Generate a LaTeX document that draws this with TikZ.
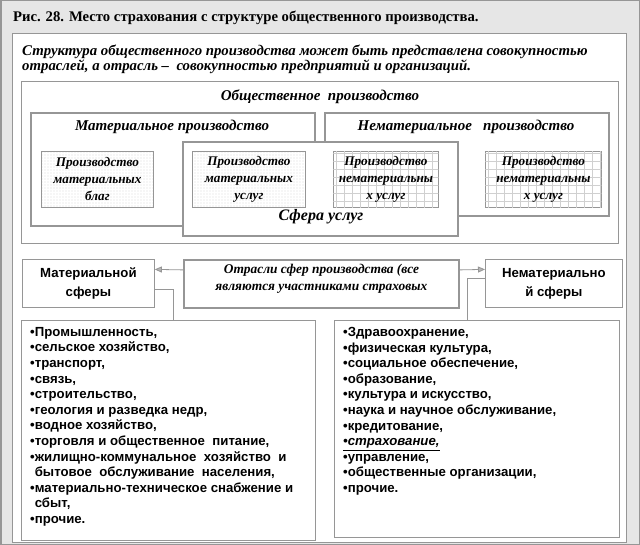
\documentclass[tikz,border=0pt]{standalone}
\usepackage{fontspec}
\setmainfont{Liberation Serif}
\newfontfamily\arialf{Liberation Sans}
\usetikzlibrary{patterns.meta,arrows.meta}
\definecolor{bgmarble}{RGB}{230,230,230}
\definecolor{lineg}{RGB}{150,150,150}
\definecolor{dotg}{RGB}{150,150,150}
\definecolor{gridg}{RGB}{208,208,208}
\begin{document}
\begin{tikzpicture}[x=1pt,y=-1pt,
  thin box/.style={draw=lineg, line width=0.8pt, fill=white, inner sep=0pt, anchor=north west},
  thick box/.style={draw=lineg, line width=1.8pt, fill=white, inner sep=0pt, anchor=north west},
  dot box/.style={draw=lineg, line width=0.8pt, fill=white, inner sep=0pt, anchor=north west,
     postaction={pattern={Dots[radius=0.4pt,distance=3pt]}, pattern color=dotg}},
  grid box/.style={draw=lineg, line width=0.8pt, fill=white, inner sep=0pt, anchor=north west,
     postaction={pattern={Hatch[distance=8pt,line width=0.35pt]}, pattern color=gridg}},
  boxtxt/.style={font=\fontsize{13.2}{17}\selectfont\bfseries\itshape, align=center},
  headtxt/.style={font=\fontsize{15}{17}\selectfont\bfseries\itshape},
  sanstxt/.style={font=\arialf\fontsize{13.2}{19}\selectfont\bfseries, align=center},
  listtxt/.style={font=\arialf\fontsize{13.2}{15.6}\selectfont\bfseries, align=left, anchor=north west, inner sep=0pt},
  arr/.style={draw=lineg, line width=0.8pt, -{Triangle[length=7pt,width=6pt,fill=lineg!70]}},
  conn/.style={draw=lineg, line width=0.8pt}]
% background
\fill[bgmarble] (0,0) rectangle (640,545);
\draw[lineg, line width=1.5pt] (0.75,0.75) rectangle (639.25,544.25);
% title
\node[anchor=west, inner sep=0pt, font=\fontsize{14.7}{16}\selectfont\bfseries] (title) at (13,18)
  {Рис. 28. Место страхования с структуре общественного производства.};
% white panel
\node[thin box, minimum width=614pt, minimum height=509pt] (panel) at (12,33) {};
\node[anchor=west, inner sep=0pt, font=\fontsize{14.8}{16}\selectfont\bfseries\itshape] (sub1) at (22,52)
  {Структура общественного производства может быть представлена совокупностью};
\node[anchor=west, inner sep=0pt, font=\fontsize{14.8}{16}\selectfont\bfseries\itshape] (sub2) at (22,67)
  {отраслей, а отрасль –\ \ совокупностью предприятий и организаций.};
% big box
\node[thin box, minimum width=597pt, minimum height=162pt] (obsh) at (21,81) {};
\node[headtxt] (obsht) at (320,97) {Общественное\ \ производство};
\node[thick box, minimum width=284pt, minimum height=113pt] (mat) at (30,112) {};
\node[headtxt] (matt) at (172,127) {Материальное производство};
\node[thick box, minimum width=284pt, minimum height=103pt] (nemat) at (324,112) {};
\node[headtxt] (nematt) at (466,127) {Нематериальное\ \ \ производство};
\node[thick box, minimum width=275pt, minimum height=94pt] (sfera) at (182,141) {};
\node[font=\fontsize{16}{18}\selectfont\bfseries\itshape] (sferat) at (321,217) {Сфера услуг};
% small boxes
\node[dot box, minimum width=112pt, minimum height=56pt] (b1) at (41,151) {};
\node[boxtxt] at (b1.center) {Производство\\материальных\\благ};
\node[dot box, minimum width=113pt, minimum height=56pt] (b2) at (192,151) {};
\node[boxtxt] at (b2.center) {Производство\\материальных\\услуг};
\node[grid box, minimum width=105pt, minimum height=56pt] (b3) at (333,151) {};
\node[boxtxt] at (b3.center) {Производство\\нематериальны\\х услуг};
\node[grid box, minimum width=116pt, minimum height=56pt] (b4) at (485,151) {};
\node[boxtxt] at (b4.center) {Производство\\нематериальны\\х услуг};
% lower row
\node[thin box, minimum width=132pt, minimum height=48pt] (L) at (22,259) {};
\node[sanstxt] at (L.center) {Материальной\\сферы};
\node[thick box, minimum width=275pt, minimum height=48pt] (M) at (183,259) {};
\node[font=\fontsize{13.4}{17}\selectfont\bfseries\itshape, align=center] at ([yshift=5.5pt]M.center)
  {Отрасли сфер производства (все\\являются участниками страховых};
\node[thin box, minimum width=137pt, minimum height=48pt] (R) at (485,259) {};
\node[sanstxt] at (R.center) {Нематериально\\й сферы};
% lists
\node[thin box, minimum width=294pt, minimum height=220pt] (LL) at (21,320) {};
\node[listtxt] (LLt) at (30,327) {•Промышленность,\\
•сельское хозяйство,\\
•транспорт,\\
•связь,\\
•строительство,\\
•геология и разведка недр,\\
•водное хозяйство,\\
•торговля и общественное\ \ питание,\\
•жилищно-коммунальное\ \ хозяйство\ \ и\\
\hphantom{•}бытовое\ \ обслуживание\ \ населения,\\
•материально-техническое снабжение и\\
\hphantom{•}сбыт,\\
•прочие.};
\node[thin box, minimum width=285pt, minimum height=217pt] (RL) at (334,320) {};
\node[listtxt] (RLt) at (343,327) {•Здравоохранение,\\
•физическая культура,\\
•социальное обеспечение,\\
•образование,\\
•культура и искусство,\\
•наука и научное обслуживание,\\
•кредитование,\\
\underline{\itshape •страхование,}\\
•управление,\\
•общественные организации,\\
•прочие.};
% connectors
\draw[arr] ([yshift=14pt]M.west) -- ([yshift=14pt]L.east);
\draw[arr] ([yshift=14pt]M.east) -- ([yshift=14pt]R.west);
\draw[conn] ([yshift=-6pt]L.east) -| ([xshift=5pt]LL.north);
\draw[conn] ([yshift=5pt]R.west) -| ([xshift=-9.5pt]RL.north);
\end{tikzpicture}
\end{document}
